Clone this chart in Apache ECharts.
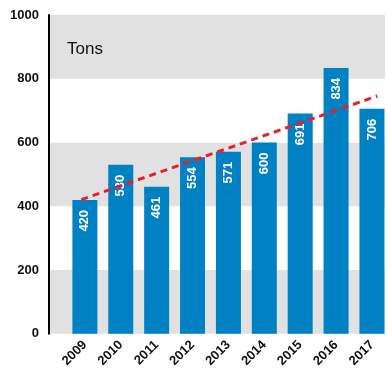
<!DOCTYPE html>
<html>
<head>
<meta charset="utf-8">
<script src="https://cdn.jsdelivr.net/npm/echarts@6/dist/echarts.min.js"></script>
<style>
  html, body { margin: 0; padding: 0; background: #fff; }
  #chart { width: 387px; height: 370px; }
</style>
</head>
<body>
<div id="chart"></div>
<script>
// Annual tonnage, 2009-2017
const years = [2009, 2010, 2011, 2012, 2013, 2014, 2015, 2016, 2017];
const tons = [420, 530, 461, 554, 571, 600, 691, 834, 706];
// Trend line end points [year position, tons]
const trendX = [2008.9, 2017.15];
const trendY = [421, 746];
const yTicks = [0, 200, 400, 600, 800, 1000];

const font = '"Liberation Sans", Arial, Helvetica, sans-serif';

const chart = echarts.init(document.getElementById('chart'), null, { renderer: 'canvas' });

chart.setOption({
  animation: false,
  backgroundColor: '#ffffff',
  title: {
    text: 'Tons',
    left: 62,
    top: 36,
    textStyle: { fontFamily: font, fontSize: 17, fontWeight: 'normal', color: '#111' }
  },
  grid: { left: 49, right: 0, top: 15, bottom: 31, containLabel: false },
  xAxis: {
    type: 'value',
    min: 2008,
    max: 2017.36,
    interval: 1,
    axisLine: { show: false },
    axisTick: { show: false },
    splitLine: { show: false },
    axisLabel: {
      rotate: 45,
      margin: 9,
      fontFamily: font,
      fontSize: 13,
      fontWeight: 'bold',
      color: '#111',
      formatter: function (v) {
        return years.indexOf(v) >= 0 ? String(v) : '';
      }
    }
  },
  yAxis: {
    type: 'value',
    min: yTicks[0],
    max: yTicks[yTicks.length - 1],
    interval: 200,
    axisLine: { show: true, lineStyle: { color: '#000', width: 2 } },
    axisTick: { show: false },
    splitLine: { show: false },
    splitArea: { show: true, areaStyle: { color: ['#e1e1e1', '#ffffff'] } },
    axisLabel: {
      margin: 10,
      fontFamily: font,
      fontSize: 13,
      fontWeight: 'bold',
      color: '#111',
      formatter: v => String(v)
    }
  },
  series: [
    {
      type: 'bar',
      data: years.map((y, i) => [y, tons[i]]),
      barWidth: 25,
      itemStyle: { color: '#0081c4' },
      label: {
        show: true,
        position: 'insideTop',
        rotate: 90,
        align: 'right',
        verticalAlign: 'middle',
        distance: 10,
        fontFamily: font,
        fontSize: 13,
        fontWeight: 'bold',
        color: '#ffffff',
        formatter: p => String(p.value[1])
      },
      z: 2
    },
    {
      type: 'line',
      data: trendX.map((x, i) => [x, trendY[i]]),
      symbol: 'none',
      lineStyle: { color: '#e8202a', width: 3, type: [7, 5] },
      z: 5
    }
  ]
});
</script>
</body>
</html>
